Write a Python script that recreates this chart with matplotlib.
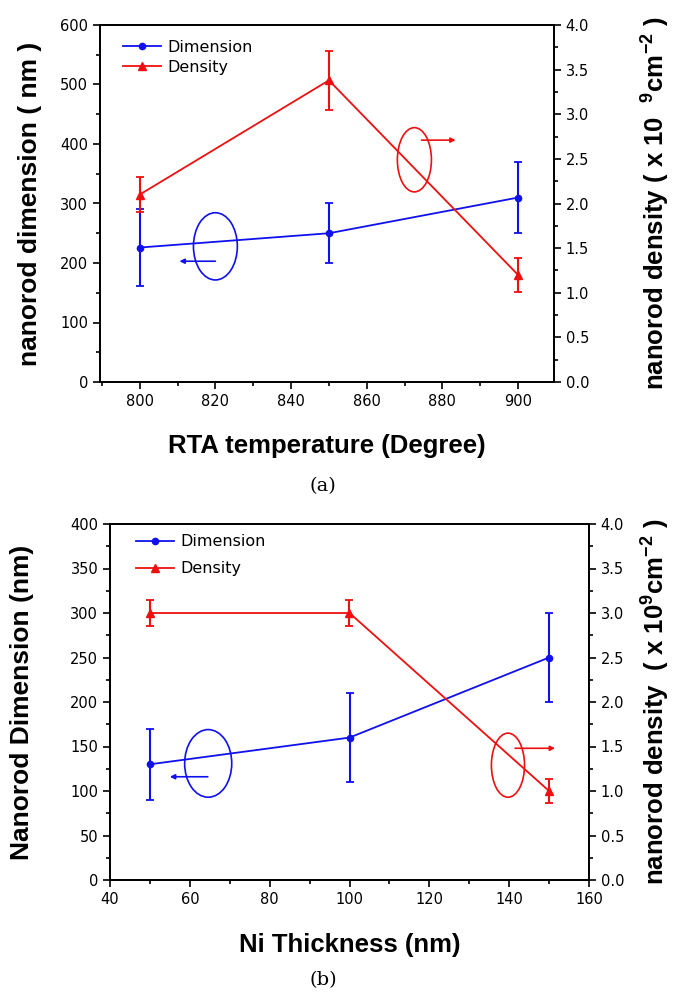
import matplotlib
matplotlib.use("Agg")
import matplotlib.pyplot as plt
from matplotlib.patches import Ellipse
from matplotlib.lines import Line2D
from matplotlib.ticker import MultipleLocator, FormatStrFormatter

plt.rcParams['font.family'] = ['Liberation Sans', 'DejaVu Sans']
plt.rcParams['mathtext.fontset'] = 'custom'
plt.rcParams['mathtext.rm'] = 'Liberation Sans:bold'
plt.rcParams['mathtext.bf'] = 'Liberation Sans:bold'

# ---- data panel (a) ----
temp = [800, 850, 900]
dim_a = [226, 250, 310]
dim_a_err = [65, 50, 60]
dens_a = [2.1, 3.38, 1.2]
dens_a_err = [0.2, 0.33, 0.19]

# ---- data panel (b) ----
thick = [50, 100, 150]
dim_b = [130, 160, 250]
dim_b_err = [40, 50, 50]
dens_b = [3.0, 3.0, 1.0]
dens_b_err = [0.15, 0.15, 0.14]

BLUE = '#1010ee'
RED = '#ee1010'
TICKFONT = 'DejaVu Sans'

fig = plt.figure(figsize=(6.79, 9.94), dpi=100)
W, H = 679, 994


def style_axis(ax):
    ax.tick_params(which='both', direction='out', labelsize=10.5, width=1.2)
    ax.tick_params(which='major', length=5)
    ax.tick_params(which='minor', length=3)
    for lab in ax.get_xticklabels() + ax.get_yticklabels():
        lab.set_family(TICKFONT)
    for s in ax.spines.values():
        s.set_linewidth(1.3)


def panel(rect, x, dim, dim_err, dens, dens_err, xlim, xmaj, ylim, ymaj,
          xlabel, ylabel_l, ylabel_r, lx, rx, xly, leg_anchor, leg_space):
    ax = fig.add_axes(rect)
    ax2 = ax.twinx()
    ax.errorbar(x, dim, yerr=dim_err, color=BLUE, marker='o', ms=4.5, lw=1.3,
                capsize=3, elinewidth=1.5, capthick=1.3)
    ax2.errorbar(x, dens, yerr=dens_err, color=RED, marker='^', ms=6, lw=1.3,
                 capsize=3, elinewidth=1.5, capthick=1.3)
    ax.set_xlim(*xlim)
    ax.set_ylim(*ylim)
    ax2.set_ylim(0, 4.0)
    ax.xaxis.set_major_locator(MultipleLocator(xmaj))
    ax.xaxis.set_minor_locator(MultipleLocator(xmaj / 2))
    ax.yaxis.set_major_locator(MultipleLocator(ymaj))
    ax.yaxis.set_minor_locator(MultipleLocator(ymaj / 2))
    ax2.yaxis.set_major_locator(MultipleLocator(0.5))
    ax2.yaxis.set_minor_locator(MultipleLocator(0.25))
    ax2.yaxis.set_major_formatter(FormatStrFormatter('%.1f'))
    style_axis(ax)
    style_axis(ax2)
    ax.set_xlabel(xlabel, fontsize=18.5, fontweight='bold')
    ax.xaxis.set_label_coords(0.5, xly)
    ax.set_ylabel(ylabel_l, fontsize=19, fontweight='bold')
    ax.yaxis.set_label_coords(lx, 0.5)
    ax2.set_ylabel(ylabel_r, fontsize=18.5, fontweight='bold')
    ax2.yaxis.set_label_coords(rx, 0.5)
    handles = [Line2D([], [], color=BLUE, marker='o', ms=4.5, lw=1.3),
               Line2D([], [], color=RED, marker='^', ms=6, lw=1.3)]
    ax2.legend(handles, ['Dimension', 'Density'], loc='upper left',
               bbox_to_anchor=leg_anchor, frameon=False,
               prop={'family': TICKFONT, 'size': 11.5},
               handlelength=2.4, borderpad=0.2,
               labelspacing=leg_space, handletextpad=0.4)
    return ax, ax2


# panel (a)
axa, axa2 = panel([100 / W, 1 - 382 / H, 454 / W, 357 / H],
                  temp, dim_a, dim_a_err, dens_a, dens_a_err,
                  (789.5, 909.5), 20, (0, 600), 100,
                  'RTA temperature (Degree)', 'nanorod dimension ( nm )',
                  r'nanorod density ( x 10  $^{9}$cm$^{-2}$ )',
                  -0.128, 1.185, -0.145, (0.025, 0.99), 0.3)
axa.add_patch(Ellipse((820, 228), 11.6, 113, fill=False, ec=BLUE, lw=1.2))
axa.annotate('', xy=(810.5, 203), xytext=(820, 203),
             arrowprops=dict(arrowstyle='-|>', color=BLUE, lw=1.2,
                             mutation_scale=7, shrinkA=0, shrinkB=0))
axa2.add_patch(Ellipse((872.6, 2.49), 9, 0.72, fill=False, ec=RED, lw=1.2))
axa2.annotate('', xy=(883.5, 2.71), xytext=(874.5, 2.71),
              arrowprops=dict(arrowstyle='-|>', color=RED, lw=1.2,
                              mutation_scale=7, shrinkA=0, shrinkB=0))
fig.text(323 / W, 1 - 486 / H, '(a)', ha='center', va='center', fontsize=14,
         family='DejaVu Serif')

# panel (b)
axb, axb2 = panel([110 / W, 1 - 880 / H, 479 / W, 356 / H],
                  thick, dim_b, dim_b_err, dens_b, dens_b_err,
                  (40, 160), 20, (0, 400), 50,
                  'Ni Thickness (nm)', 'Nanorod Dimension (nm)',
                  r'nanorod density  ( x 10$^{9}$cm$^{-2}$ )',
                  -0.158, 1.103, -0.15, (0.03, 1.003), 0.75)
axb.add_patch(Ellipse((64.6, 131), 11.8, 76, fill=False, ec=BLUE, lw=1.2))
axb.annotate('', xy=(55, 116), xytext=(64.5, 116),
             arrowprops=dict(arrowstyle='-|>', color=BLUE, lw=1.2,
                             mutation_scale=7, shrinkA=0, shrinkB=0))
axb2.add_patch(Ellipse((139.7, 1.29), 8.3, 0.72, fill=False, ec=RED, lw=1.2))
axb2.annotate('', xy=(151.5, 1.48), xytext=(141.5, 1.48),
              arrowprops=dict(arrowstyle='-|>', color=RED, lw=1.2,
                              mutation_scale=7, shrinkA=0, shrinkB=0))
fig.text(323 / W, 1 - 980 / H, '(b)', ha='center', va='center', fontsize=14,
         family='DejaVu Serif')

fig.savefig('out.png', dpi=100)
